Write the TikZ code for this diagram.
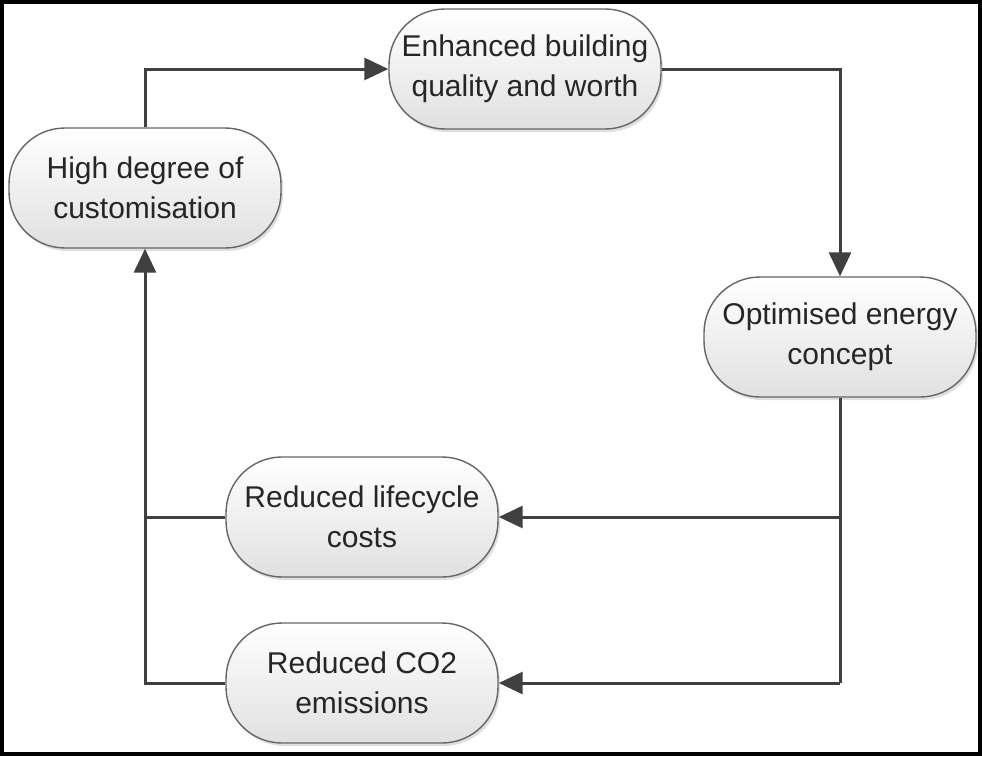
\documentclass[tikz,border=0pt]{standalone}
\usepackage{fontspec}
\setmainfont{Liberation Sans}
\usetikzlibrary{arrows.meta,shadows}
\definecolor{lineclr}{HTML}{404040}
\definecolor{textclr}{HTML}{262626}
\tikzset{
  pill/.style={draw=black!60, line width=1.4pt, rounded corners=56pt,
    top color=white, bottom color=black!12, minimum width=272pt, minimum height=120pt,
    align=center, inner sep=0pt, text=textclr,
    font=\fontsize{30}{40}\selectfont,
    drop shadow={shadow xshift=2pt, shadow yshift=-3pt, opacity=0.25, fill=black!50}},
  conn/.style={draw=lineclr, line width=3pt},
  arr/.style={conn, -{Triangle[length=24pt,width=22pt]}}
}
\begin{document}
\begin{tikzpicture}[x=1pt,y=-1pt]
\useasboundingbox (0,0) rectangle (982,756);
\fill[white] (0,0) rectangle (982,756);
\node[pill] (high) at (145,188) {High degree of\\customisation};
\node[pill] (enh) at (525,69) {Enhanced building\\quality and worth};
\node[pill] (opt) at (840,337) {Optimised energy\\concept};
\node[pill] (life) at (362,517) {Reduced lifecycle\\costs};
\node[pill] (co2) at (362,683) {Reduced CO2\\emissions};
\coordinate (c2) at (840,69);
\coordinate (c3) at (840,517);
\coordinate (c4) at (840,683);
\coordinate (c5) at (145,517);
\coordinate (c6) at (145,683);
\draw[arr] (high.north) |- (enh.west);
\draw[arr] (enh.east) -- (c2) -- (opt.north);
\draw[conn] (opt.south) -- (c4);
\draw[arr] (c3) -- (life.east);
\draw[arr] (c4) -- (co2.east);
\draw[conn] (life.west) -- (c5);
\draw[arr] (co2.west) -- (c6) -- (high.south);
\draw[black, line width=4pt] (2,2) rectangle (980,754);
\end{tikzpicture}
\end{document}
